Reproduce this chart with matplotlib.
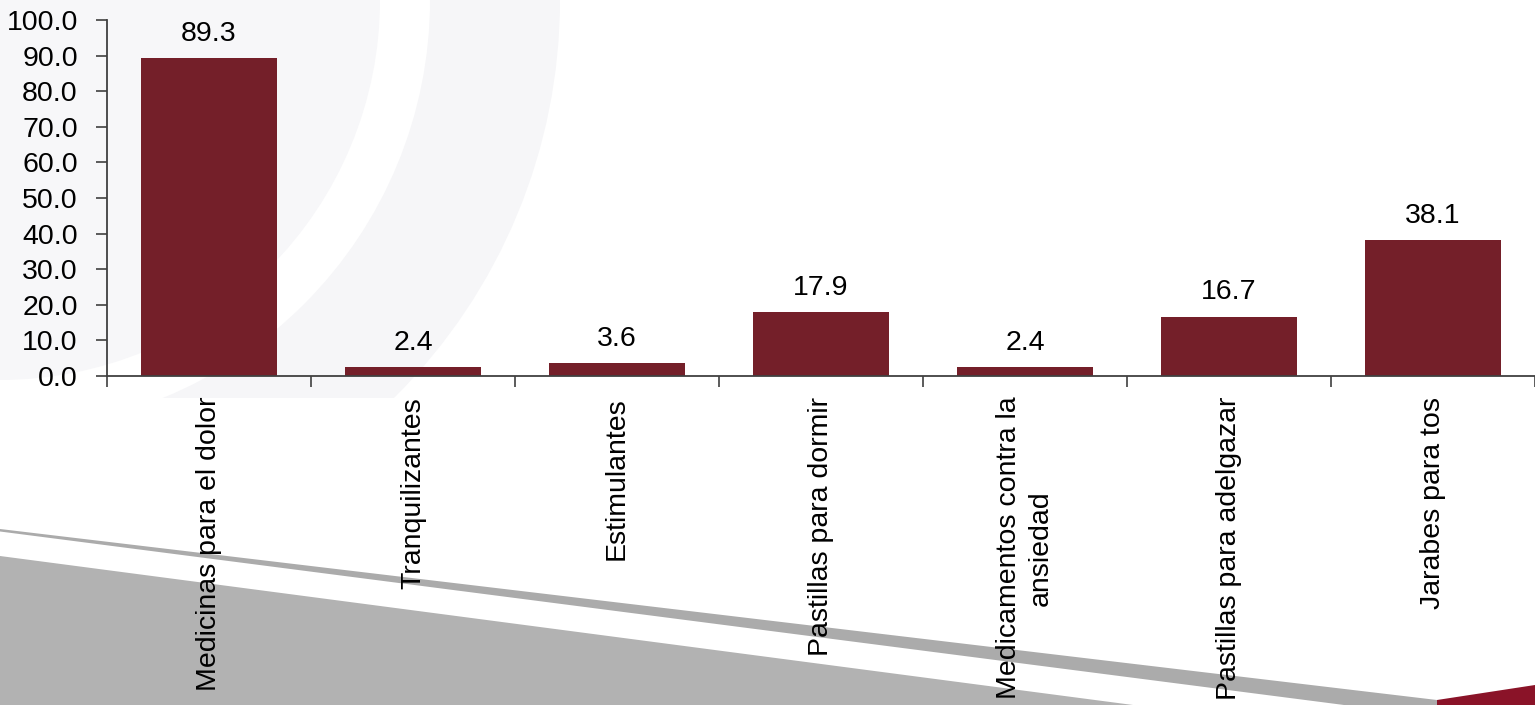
import numpy as np
import matplotlib
matplotlib.use('Agg')
import matplotlib.pyplot as plt
from matplotlib.patches import Polygon, Wedge, Rectangle

# datos
categorias = ['Medicinas para el dolor', 'Tranquilizantes', 'Estimulantes',
              'Pastillas para dormir', 'Medicamentos contra la\nansiedad',
              'Pastillas para adelgazar', 'Jarabes para tos']
valores = [89.3, 2.4, 3.6, 17.9, 2.4, 16.7, 38.1]
yticks = [0, 10, 20, 30, 40, 50, 60, 70, 80, 90, 100]

plt.rcParams['font.family'] = ['Liberation Sans', 'DejaVu Sans']

fig = plt.figure(figsize=(15.35, 7.05), dpi=100)

# fondo decorativo (coordenadas en pixeles)
bg = fig.add_axes([0, 0, 1, 1], zorder=0)
bg.set_xlim(0, 1535)
bg.set_ylim(705, 0)
bg.axis('off')
clip = Rectangle((0, 0), 1535, 398, transform=bg.transData)
for p in [Wedge((0, 0), 560, 0, 90, width=130, color='#f6f6f8', lw=0),
          Wedge((0, 0), 380, 0, 90, color='#f7f7f9', lw=0)]:
    bg.add_patch(p)
    p.set_clip_path(clip)
bg.add_patch(Polygon([(0, 556), (1133, 705), (0, 705)], closed=True,
                     color='#b2b2b2', lw=0))
bg.add_patch(Polygon([(0, 529), (1437, 700), (1437, 717), (0, 531.5)],
                     closed=True, color='#ababab', lw=0))
bg.add_patch(Polygon([(1437, 700), (1535, 685), (1535, 705), (1437, 705)],
                     closed=True, color='#8a1328', lw=0))

ax = fig.add_axes([107 / 1535, 1 - 376 / 705, 1 - 107 / 1535, 356 / 705],
                  zorder=1)
ax.patch.set_alpha(0)

x = np.arange(len(categorias))
ax.bar(x, valores, width=0.67, color='#741f29', zorder=2)
for xi, v in zip(x, valores):
    ax.annotate('%.1f' % v, (xi, v), xytext=(0, 8), textcoords='offset points',
                ha='center', va='bottom', fontsize=20.5, color='black')

ax.set_xlim(-0.5, len(categorias) - 0.5)
ax.set_ylim(0, 100)
ax.set_yticks(yticks)
ax.set_yticklabels(['%.1f' % t for t in yticks])
ax.set_xticks(x)
ax.set_xticklabels(categorias, rotation=90, va='top', ha='center',
                   multialignment='center', linespacing=1.25)
ax.set_xticks(np.arange(-0.5, len(categorias), 1), minor=True)

ax.tick_params(axis='x', which='major', length=0, pad=15, labelsize=20.5)
ax.tick_params(axis='x', which='minor', length=8, width=1.2, color='#404040')
ax.tick_params(axis='y', length=8, width=1.2, pad=13, color='#404040',
               labelsize=20.5)

for s in ['top', 'right']:
    ax.spines[s].set_visible(False)
for s in ['left', 'bottom']:
    ax.spines[s].set_color('#404040')
    ax.spines[s].set_linewidth(1.3)

fig.savefig('out.png', dpi=100)
